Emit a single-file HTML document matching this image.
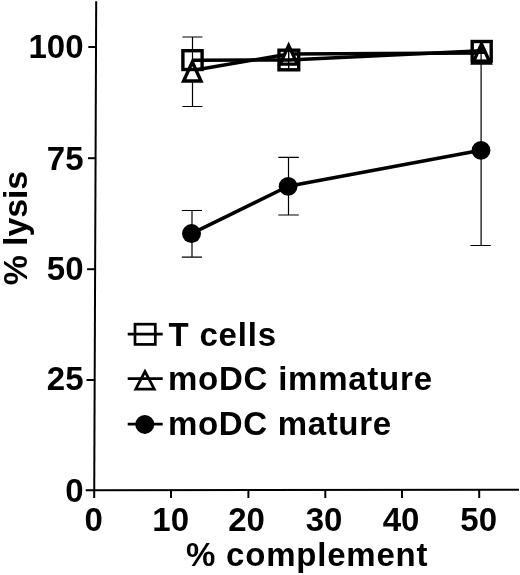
<!DOCTYPE html>
<html><head><meta charset="utf-8">
<style>
html,body{margin:0;padding:0;background:#fff;}
svg{display:block;}
text{font-family:"Liberation Sans",sans-serif;font-weight:bold;font-size:33px;fill:#000;}
</style></head><body>
<svg width="520" height="575" viewBox="0 0 520 575" xmlns="http://www.w3.org/2000/svg">
<rect width="520" height="575" fill="#fff"/>
<!-- axes -->
<g stroke="#000" stroke-width="2" fill="none" stroke-linecap="butt">
<line x1="96.2" y1="1.3" x2="94.2" y2="498"/>
<line x1="85.7" y1="490.2" x2="519" y2="489.8"/>
<!-- y ticks -->
<line x1="88.3" y1="47" x2="96" y2="47"/>
<line x1="88" y1="158.2" x2="96" y2="158.2"/>
<line x1="87.1" y1="269.2" x2="95.5" y2="269.2"/>
<line x1="86.5" y1="380" x2="95" y2="380"/>
<!-- x ticks -->
<line x1="171" y1="490" x2="171" y2="498"/>
<line x1="248.4" y1="490" x2="248.4" y2="498"/>
<line x1="325.3" y1="490" x2="325.3" y2="498"/>
<line x1="402" y1="490" x2="402" y2="498"/>
<line x1="479.2" y1="490" x2="479.2" y2="498"/>
</g>
<!-- tick labels -->
<g text-anchor="end">
<text x="83.5" y="58">100</text>
<text x="83.5" y="169.5">75</text>
<text x="83.5" y="279.6">50</text>
<text x="83.5" y="390.3">25</text>
<text x="83.5" y="502">0</text>
</g>
<g text-anchor="middle">
<text x="93.7" y="531">0</text>
<text x="170.7" y="531">10</text>
<text x="246.5" y="531">20</text>
<text x="324" y="531">30</text>
<text x="401" y="531">40</text>
<text x="478.7" y="531">50</text>
</g>
<text x="186" y="565.5" textLength="241.5" lengthAdjust="spacing">% complement</text>
<text transform="translate(26.5,285.3) rotate(-90)" style="font-size:34px" textLength="114.5" lengthAdjust="spacing">% lysis</text>
<!-- series: moDC immature (open triangle) -->
<g stroke="#000" stroke-width="1.2" fill="none">
<path d="M192.5 37V106.5M182.4 37H202.4M182.4 106.5H202.4"/>
</g>
<polyline points="192.3,70.5 288.7,54 481.5,53" stroke="#000" stroke-width="3.5" fill="none"/>
<g stroke="#000" stroke-width="3.4" fill="#fff" stroke-linejoin="miter">
<path d="M192.3 62L201 81H183.6Z"/>
<path d="M288.7 45.6L297.4 64.1H280Z"/>
<path d="M481.5 44L490.2 63.1H472.8Z"/>
</g>
<path d="M481.5 44L486 54H477Z" fill="#000"/>
<!-- series: T cells (open square) -->
<polyline points="192.4,60.2 288.7,60 481.5,50.8" stroke="#000" stroke-width="3.5" fill="none"/>
<path d="M288.7 49V71" stroke="#000" stroke-width="1.4" fill="none"/>
<g stroke="#000" stroke-width="3.4" fill="none">
<rect x="182.9" y="50.7" width="19.2" height="18.8"/>
<rect x="279" y="50.2" width="19.7" height="19.6"/>
<rect x="472.2" y="41.5" width="19" height="19.6"/>
</g>
<!-- series: moDC mature (filled circle) -->
<g stroke="#000" stroke-width="1.2" fill="none">
<path d="M192 210.5V257.1M181.8 210.5H202M181.8 257.1H202"/>
<path d="M288.5 157.4V215M278.3 157.4H298.8M278.3 215H298.8"/>
<path d="M481.1 53V245.5M470.4 245.5H490.8"/>
</g>
<polyline points="191.5,233.6 288.1,186.3 481,150.3" stroke="#000" stroke-width="3.5" fill="none" stroke-linejoin="round"/>
<g fill="#000">
<circle cx="191.5" cy="233.6" r="9.5"/>
<circle cx="288.1" cy="186.3" r="9.4"/>
<circle cx="481" cy="150.3" r="9.4"/>
</g>
<!-- legend -->
<g stroke="#000" stroke-width="2.7" fill="none">
<line x1="127.7" y1="334.2" x2="162.7" y2="334.2"/>
<rect x="135" y="324.2" width="20.3" height="20.2"/>
<line x1="127.7" y1="378.7" x2="162.7" y2="378.7"/>
<path d="M145 371.5L154.3 389.2H135.7Z"/>
<line x1="127.7" y1="424.2" x2="162.7" y2="424.2"/>
</g>
<circle cx="144.8" cy="424.4" r="9.5" fill="#000"/>
<text x="168.5" y="345.5" textLength="107.5" lengthAdjust="spacing">T cells</text>
<text x="168" y="390" textLength="264" lengthAdjust="spacing">moDC immature</text>
<text x="168" y="435.3" textLength="223" lengthAdjust="spacing">moDC mature</text>
</svg>
</body></html>
